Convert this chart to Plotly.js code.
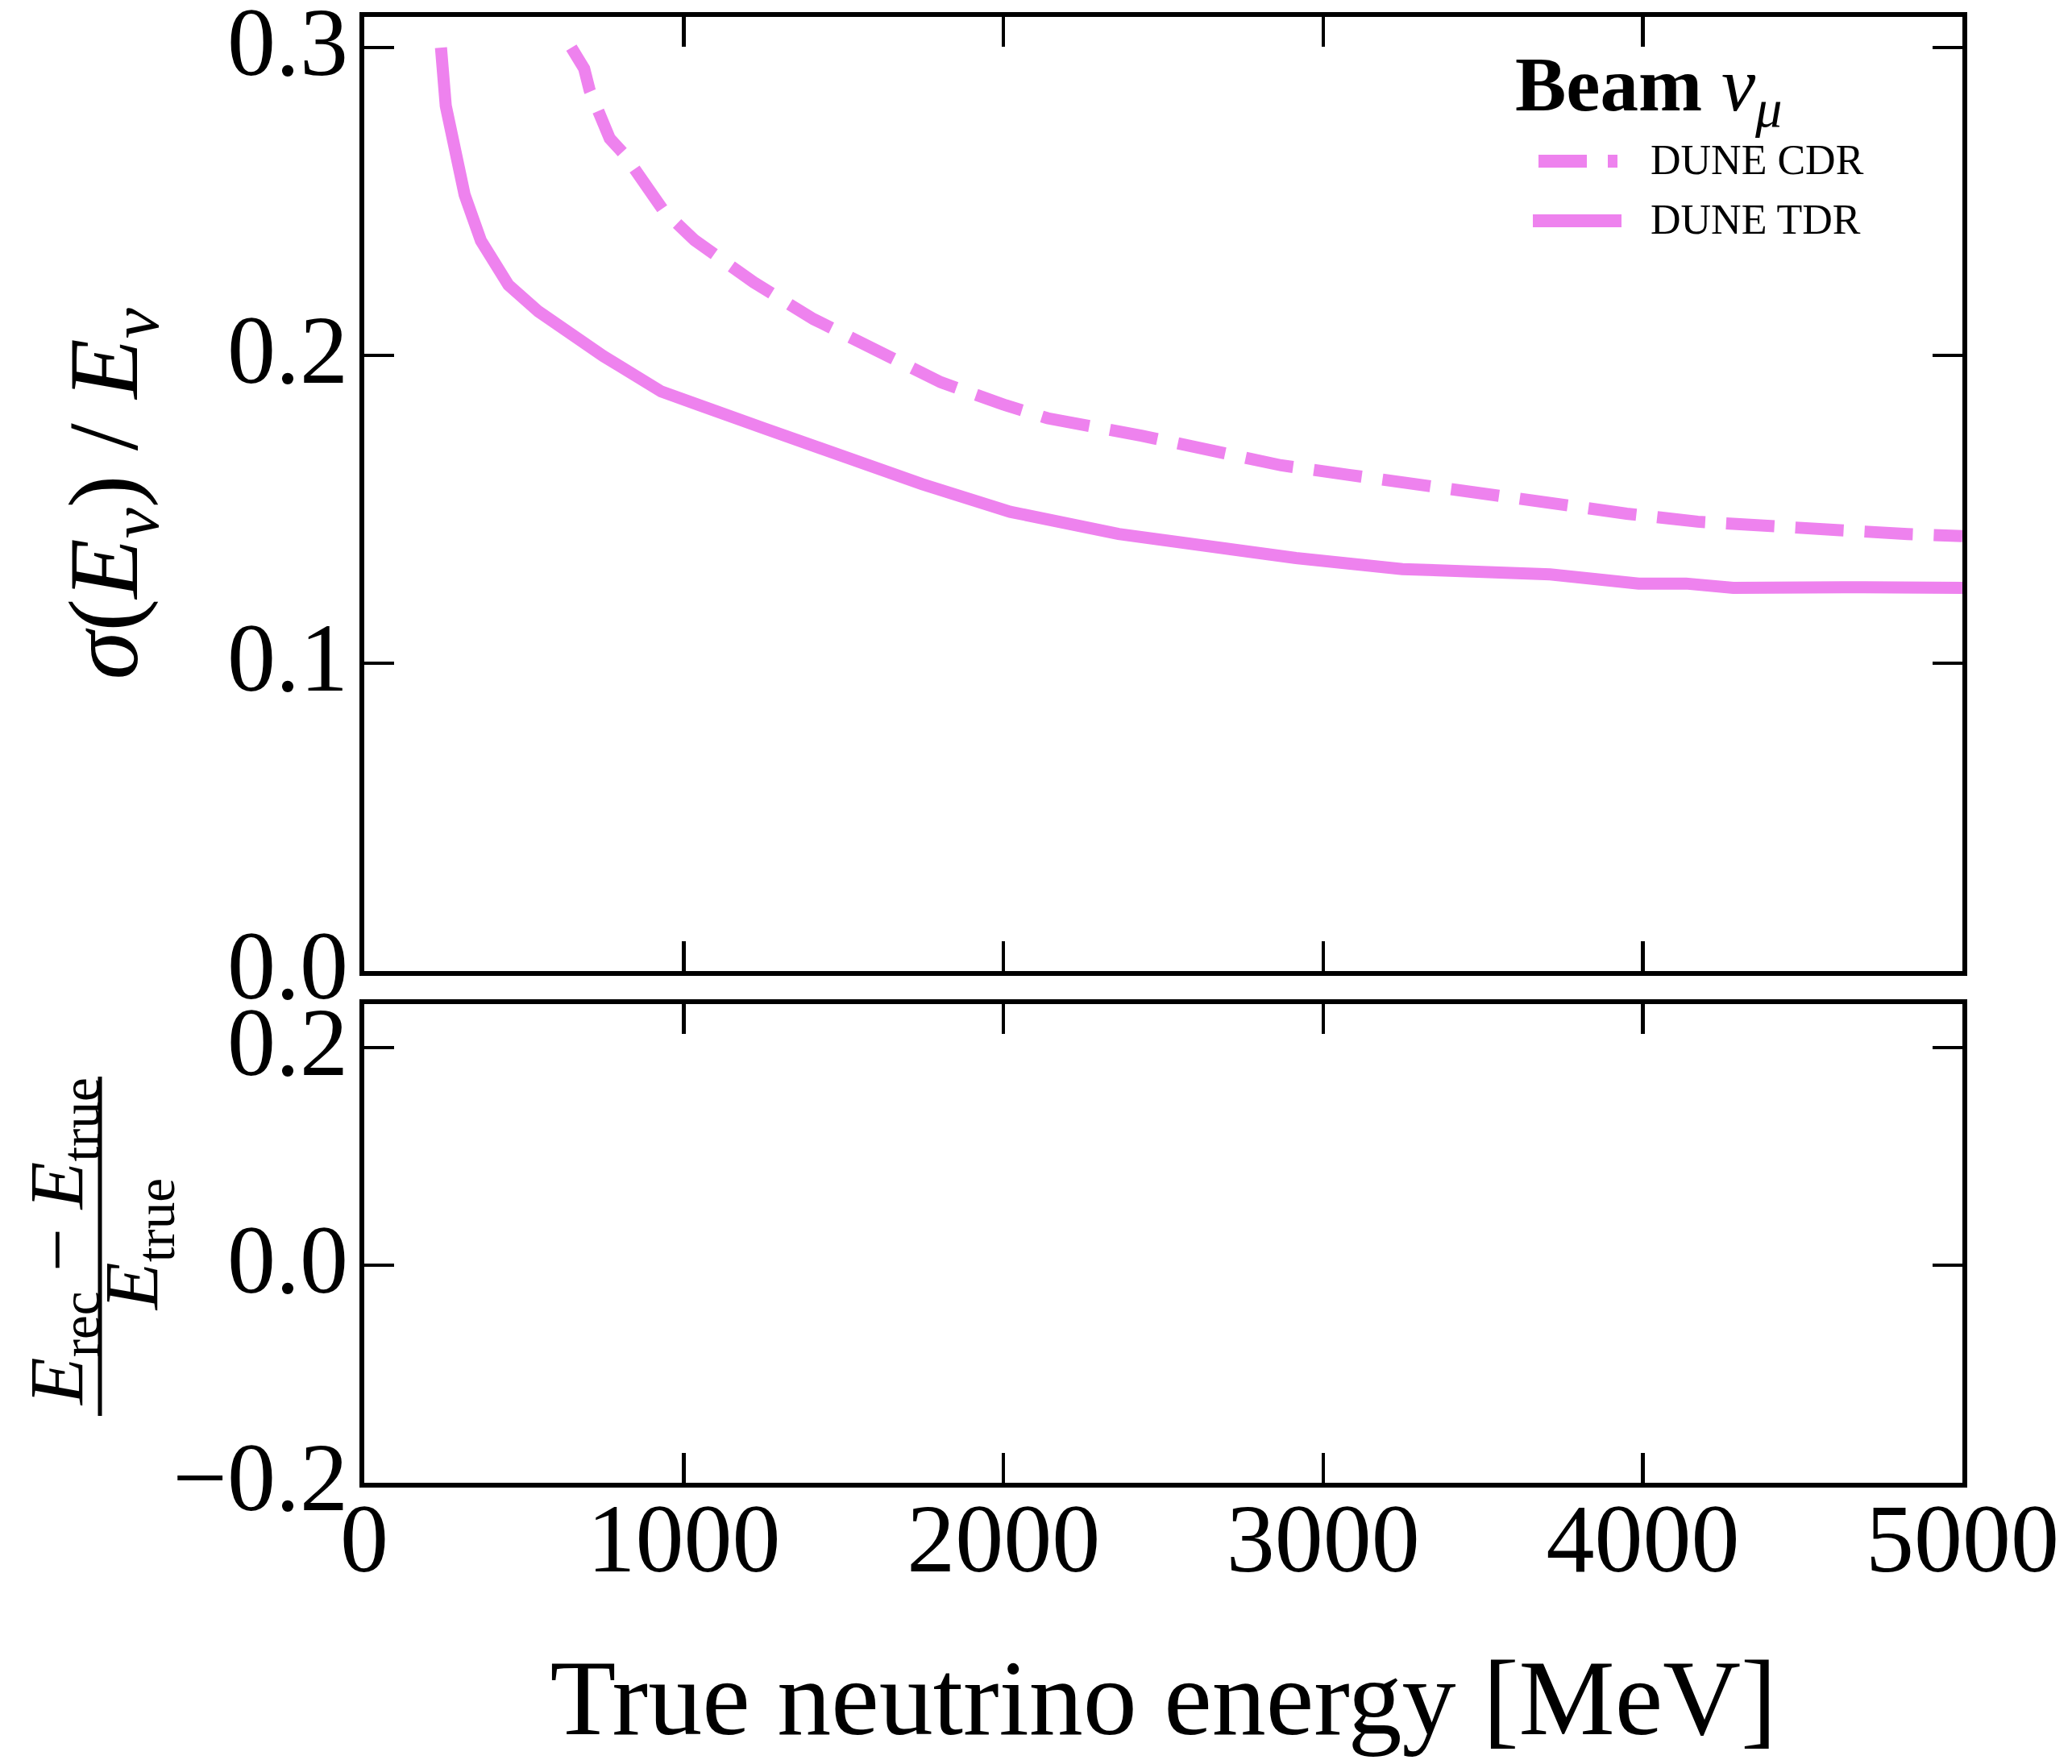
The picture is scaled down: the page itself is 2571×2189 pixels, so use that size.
<!DOCTYPE html>
<html>
<head>
<meta charset="utf-8">
<script src="https://cdn.plot.ly/plotly-3.0.1.min.js"></script>
<style>
  html, body { margin: 0; padding: 0; background: #ffffff; }
  #chart { width: 2571px; height: 2189px; }
</style>
</head>
<body>
<div id="chart"></div>
<script>
// ---- Data ----
const tdrEnergy = [240, 255, 314, 365, 451, 545, 748, 929, 1254, 1544, 1746, 2021, 2150, 2360, 2915, 3248, 3710, 3987, 4135, 4283, 4690, 5000];
const tdrResolution = [0.300, 0.2811, 0.2522, 0.2373, 0.2229, 0.2143, 0.1998, 0.1883, 0.1762, 0.1652, 0.1582, 0.1492, 0.1462, 0.1420, 0.1342, 0.1306, 0.1289, 0.1259, 0.1259, 0.1245, 0.1247, 0.1245];

const cdrEnergy = [648, 688, 705, 734, 768, 814, 852, 936, 1033, 1218, 1406, 1602, 1804, 2007, 2138, 2434, 2656, 2869, 3081, 3294, 3516, 3732, 3950, 4172, 4385, 4607, 4829, 5000];
const cdrResolution = [0.300, 0.2932, 0.2862, 0.2784, 0.2705, 0.2653, 0.2591, 0.2471, 0.2375, 0.2238, 0.2118, 0.2013, 0.1913, 0.1838, 0.1796, 0.1739, 0.1687, 0.1643, 0.1612, 0.1582, 0.1547, 0.1512, 0.1486, 0.1460, 0.1442, 0.1433, 0.1420, 0.1413];

const seriesNames = ["DUNE CDR", "DUNE TDR"];
const legendTitle = "<b>Beam</b> <i>ν<sub>μ</sub></i>";
const xTitle = "True neutrino energy [MeV]";
const yTitleTop = "<i>σ</i>(<i>E<sub>ν</sub></i>) / <i>E<sub>ν</sub></i>";
const yTitleBottomNum = "<i>E</i><sub>rec</sub> − <i>E</i><sub>true</sub>";
const yTitleBottomDen = "<i>E</i><sub>true</sub>";
const xTickVals = [0, 1000, 2000, 3000, 4000, 5000];
const yTopTickVals = [0.0, 0.1, 0.2, 0.3];
const yBottomTickVals = [-0.2, 0.0, 0.2];

// ---- Styling ----
const FONT = "Liberation Serif, Times New Roman, serif";
const VIOLET = "#EE82EE";
const W = 2571, H = 2189;
const L = 452, R = 136, T = 21, B = 349;
const PW = W - L - R, PH = H - T - B;
const px = v => (v - L) / PW;           // page x -> paper x
const py = v => (H - B - v) / PH;       // page y -> paper y

const axisCommon = {
  showline: true, linecolor: "#000", linewidth: 6,
  mirror: "ticks", ticks: "inside", ticklen: 37, tickwidth: 4.5, tickcolor: "#000",
  showgrid: false, zeroline: false, ticklabeloverflow: "allow",
  tickfont: { family: FONT, size: 120, color: "#000" }
};

const traces = [
  { x: cdrEnergy, y: cdrResolution, xaxis: "x2", yaxis: "y2", type: "scatter", mode: "lines",
    name: seriesNames[0], line: { color: VIOLET, width: 15, dash: "60px,26px" }, showlegend: false },
  { x: tdrEnergy, y: tdrResolution, xaxis: "x2", yaxis: "y2", type: "scatter", mode: "lines",
    name: seriesNames[1], line: { color: VIOLET, width: 15 }, showlegend: false },
  { x: [], y: [], xaxis: "x", yaxis: "y", type: "scatter", mode: "lines", showlegend: false, hoverinfo: "skip" }
];

const topBottom = py(1205), botTop = py(1246);

const layout = {
  width: W, height: H,
  margin: { l: L, r: R, t: T, b: B, pad: 0 },
  paper_bgcolor: "#fff", plot_bgcolor: "#fff",
  showlegend: false,
  font: { family: FONT, color: "#000" },
  xaxis: Object.assign({}, axisCommon, {
    domain: [0, 1], anchor: "y", range: [0, 5000],
    tickvals: xTickVals, ticktext: xTickVals.map(String), ticklabelstandoff: -40,
    title: { text: xTitle, font: { family: FONT, size: 134, color: "#000" }, standoff: 85 }
  }),
  yaxis: Object.assign({}, axisCommon, {
    domain: [0, botTop], anchor: "x", range: [-0.2, 0.24], ticklabelshift: -8, ticklabelstandoff: -10,
    tickvals: yBottomTickVals, ticktext: yBottomTickVals.map(v => v < 0 ? "−" + Math.abs(v).toFixed(1) : v.toFixed(1))
  }),
  xaxis2: Object.assign({}, axisCommon, {
    domain: [0, 1], anchor: "y2", range: [0, 5000], matches: "x",
    tickvals: xTickVals, showticklabels: false
  }),
  yaxis2: Object.assign({}, axisCommon, {
    domain: [topBottom, 1], anchor: "x2", range: [0, 0.31], ticklabelshift: -8, ticklabelstandoff: -10,
    tickvals: yTopTickVals, ticktext: yTopTickVals.map(v => v.toFixed(1)),
    title: { text: yTitleTop, font: { family: FONT, size: 122, color: "#000" }, standoff: 72 }
  }),
  annotations: [
    { xref: "paper", yref: "paper", x: px(1878), y: py(112), xanchor: "left", yanchor: "middle",
      text: legendTitle, showarrow: false, font: { family: FONT, size: 95, color: "#000" } },
    { xref: "paper", yref: "paper", x: px(2046), y: py(198), xanchor: "left", yanchor: "middle",
      text: seriesNames[0], showarrow: false, font: { family: FONT, size: 52, color: "#000" } },
    { xref: "paper", yref: "paper", x: px(2046), y: py(272), xanchor: "left", yanchor: "middle",
      text: seriesNames[1], showarrow: false, font: { family: FONT, size: 52, color: "#000" } },
    { xref: "paper", yref: "paper", x: px(77), y: py(1541), xanchor: "center", yanchor: "middle",
      text: yTitleBottomNum, textangle: -90, showarrow: false, font: { family: FONT, size: 96, color: "#000" } },
    { xref: "paper", yref: "paper", x: px(170), y: py(1545), xanchor: "center", yanchor: "middle",
      text: yTitleBottomDen, textangle: -90, showarrow: false, font: { family: FONT, size: 96, color: "#000" } }
  ],
  shapes: [
    { type: "line", xref: "paper", yref: "paper", x0: px(1909), x1: px(2007), y0: py(200), y1: py(200),
      line: { color: VIOLET, width: 16, dash: "60px,26px" } },
    { type: "line", xref: "paper", yref: "paper", x0: px(1902), x1: px(2012), y0: py(274), y1: py(274),
      line: { color: VIOLET, width: 16 } },
    { type: "line", xref: "paper", yref: "paper", x0: px(124), x1: px(124), y0: py(1336), y1: py(1757),
      line: { color: "#000", width: 5 } }
  ]
};

Plotly.newPlot("chart", traces, layout, { displayModeBar: false, staticPlot: true });
</script>
</body>
</html>
